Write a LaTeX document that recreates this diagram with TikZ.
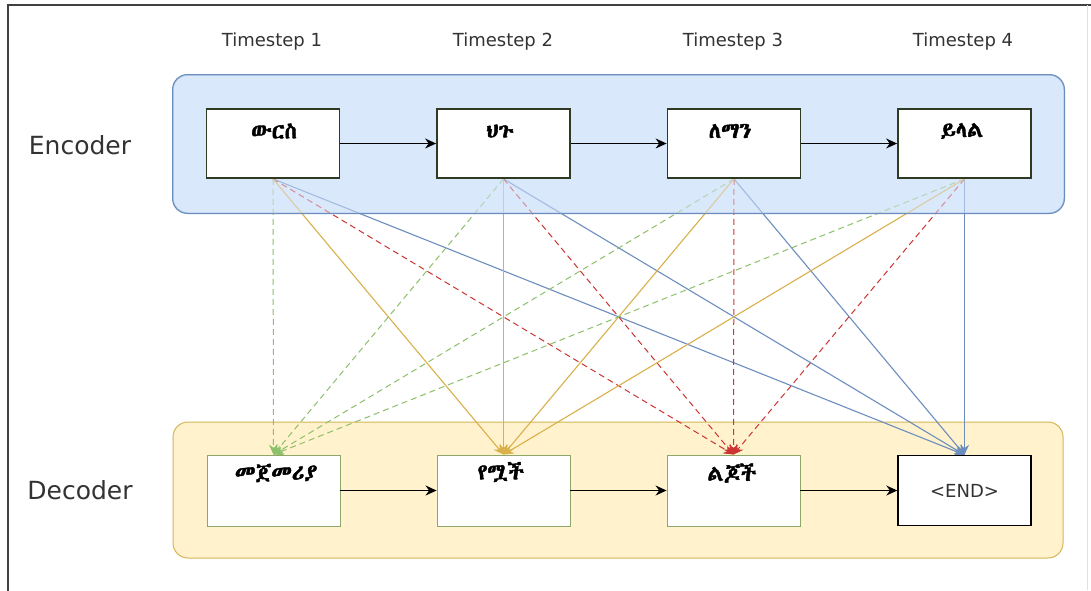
\documentclass[tikz,border=0pt]{standalone}
\usepackage{fontspec}
\setmainfont{DejaVu Sans}
\IfFontExistsTF{Abyssinica SIL}{%
  \newfontfamily\eth[Script=Ethiopic,FakeBold=2]{Abyssinica SIL}}{%
  \newfontfamily\eth{DejaVu Sans}}
\usetikzlibrary{arrows.meta}
\pgfdeclarelayer{back}
\pgfdeclarelayer{mid}
\pgfdeclarelayer{over}
\pgfsetlayers{back,mid,over,main}
\definecolor{encfill}{HTML}{DAE8FC}
\definecolor{encline}{HTML}{6C8EBF}
\definecolor{decfill}{HTML}{FFF2CC}
\definecolor{decline}{HTML}{D6B656}
\definecolor{gline}{HTML}{8CC06A}
\definecolor{oline}{HTML}{D9B04A}
\definecolor{rline}{HTML}{CC3333}
\definecolor{bline}{HTML}{6C8EBF}
\definecolor{boxgreen}{HTML}{8FA66A}
\definecolor{encedge}{HTML}{2F3A22}
\definecolor{txtgray}{HTML}{333333}
\tikzset{
  grp/.style={rounded corners=15pt, line width=1pt},
  encbox/.style={draw=encedge, fill=white, line width=1.8pt, minimum width=133pt, minimum height=69pt, inner sep=0pt},
  decbox/.style={draw=boxgreen, fill=white, line width=0.9pt, minimum width=133pt, minimum height=71pt, inner sep=0pt},
  endbox/.style={draw=black, fill=white, line width=1.4pt, minimum width=133pt, minimum height=70pt, inner sep=0pt, font=\fontsize{18pt}{20pt}\selectfont, text=txtgray},
  word/.style={font=\eth\fontsize{22pt}{24pt}\selectfont, text=black, inner sep=0pt},
  tslabel/.style={font=\fontsize{18pt}{20pt}\selectfont, text=txtgray},
  sidelabel/.style={font=\fontsize{25pt}{28pt}\selectfont, text=txtgray},
  flow/.style={draw=black, line width=1.3pt, -{Stealth[length=11pt,width=10pt]}},
  tip/.style={-{Stealth[length=10pt,width=9pt]}},
  gcon/.style={draw=gline, line width=1pt, dash pattern=on 6pt off 4pt, tip},
  ocon/.style={draw=oline, line width=1.1pt, tip},
  rcon/.style={draw=rline, line width=1pt, dash pattern=on 6pt off 4pt, tip},
  bcon/.style={draw=bline, line width=1.1pt, tip},
}
\begin{document}
\begin{tikzpicture}[x=1pt,y=-1pt]
\useasboundingbox (0,0) rectangle (1091,590);

% encoder boxes
\node[encbox] (e1) at (273,143.5) {};
\node[encbox] (e2) at (503.5,143.5) {};
\node[encbox] (e3) at (734,143.5) {};
\node[encbox] (e4) at (964.5,143.5) {};
\node[word] (w1) at (274,131) {ውርስ};
\node[word] (w2) at (500,131) {ህጉ};
\node[word] (w3) at (730,131) {ለማን};
\node[word] (w4) at (962,131) {ይላል};

% decoder boxes
\node[decbox] (d1) at (273.5,490.5) {};
\node[decbox] (d2) at (503.5,490.5) {};
\node[decbox] (d3) at (733.5,490.5) {};
\node[endbox] (d4) at (964.5,490.5) {<END>};
\node[word] (v1) at (276,473) {መጀመሪያ};
\node[word] (v2) at (501,472) {የሟች};
\node[word] (v3) at (732,473) {ልጆች};

% horizontal flow
\draw[flow] (e1.east) -- (e2.west);
\draw[flow] (e2.east) -- (e3.west);
\draw[flow] (e3.east) -- (e4.west);
\draw[flow] (d1.east) -- (d2.west);
\draw[flow] (d2.east) -- (d3.west);
\draw[flow] (d3.east) -- (d4.west);

\begin{pgfonlayer}{back}
\fill[white] (0,0) rectangle (1091,590);
\draw[black!75, line width=1.5pt] (8,592) -- (8,5) -- (1095,5);
\draw[black!12, line width=0.8pt] (1087,5) -- (1087,590);
% timestep labels
\node[tslabel] (t1) at (272,42) {Timestep 1};
\node[tslabel] (t2) at (503,42) {Timestep 2};
\node[tslabel] (t3) at (733,42) {Timestep 3};
\node[tslabel] (t4) at (963,42) {Timestep 4};
% side labels
\node[sidelabel] (enclbl) at (80,145) {Encoder};
\node[sidelabel] (declbl) at (80,490) {Decoder};
% groups
\node[grp, fill=encfill, draw=encline, minimum width=891pt, minimum height=138pt] (enc) at (618.5,144) {};
\node[grp, fill=decfill, draw=decline, minimum width=890pt, minimum height=136pt] (dec) at (618,490) {};
\end{pgfonlayer}

% attention connectors
\begin{pgfonlayer}{mid}
\foreach \s in {e1,e2,e3,e4} {
  \draw[bcon] (\s.south) -- (d4.north);
  \draw[gcon] (\s.south) -- (d1.north);
  \draw[rcon] (\s.south) -- (d3.north);
  \draw[ocon] (\s.south) -- (d2.north);
}
\end{pgfonlayer}

% translucent encoder group tint over the connectors
\begin{pgfonlayer}{over}
\fill[encfill, fill opacity=0.5, rounded corners=15pt] (enc.north west) rectangle (enc.south east);
\draw[encline, line width=1pt, rounded corners=15pt] (enc.north west) rectangle (enc.south east);
\end{pgfonlayer}
\end{tikzpicture}
\end{document}
